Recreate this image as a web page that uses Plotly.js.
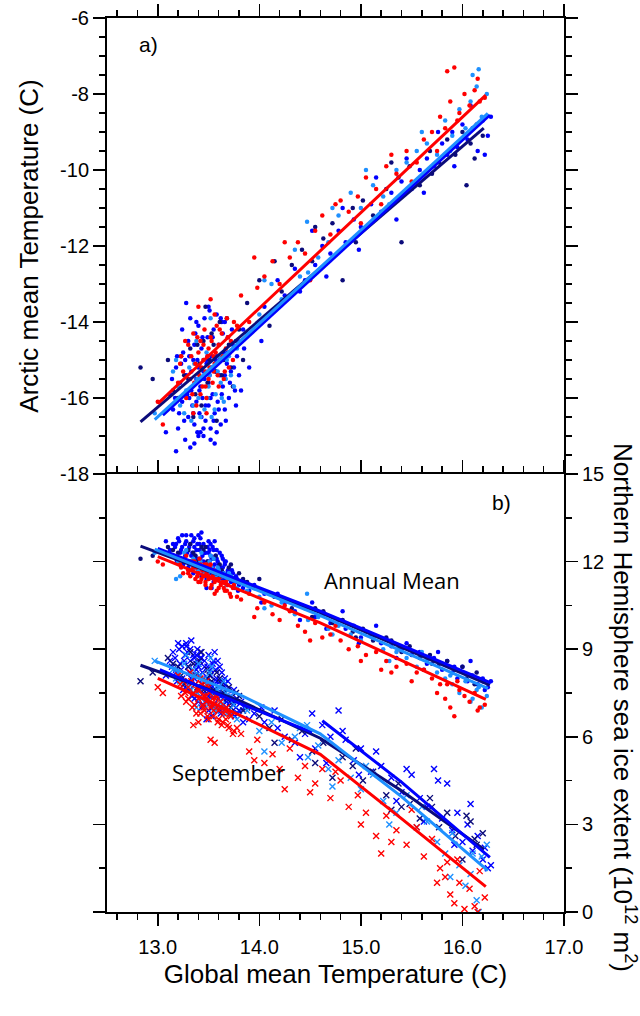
<!DOCTYPE html>
<html>
<head>
<meta charset="utf-8">
<script src="https://cdn.plot.ly/plotly-3.0.1.min.js"></script>
<style>html,body{margin:0;padding:0;background:#fff;}#chart{width:640px;height:1016px;}</style>
</head>
<body>
<div id="chart"></div>
<script>
// ---------------- DATA ----------------
// Each point: global mean T (x), Arctic mean T, annual NH sea ice extent, September NH sea ice extent
var xBlue = [13.12,13.15,13.18,13.20,13.22,13.24,13.25,13.27,13.28,13.30,13.30,13.32,13.33,13.34,13.35,13.36,13.37,13.38,13.39,13.40,13.40,13.41,13.42,13.43,13.44,13.45,13.45,13.46,13.47,13.48,13.49,13.50,13.50,13.51,13.52,13.53,13.54,13.55,13.56,13.57,13.58,13.59,13.60,13.61,13.62,13.63,13.64,13.65,13.66,13.68,13.69,13.70,13.72,13.74,13.76,13.78,13.80,13.28,13.36,13.43,13.52,13.58,13.66,13.85,13.90,13.48,13.18,13.08,13.95,14.05,14.15,14.25,14.35,14.45,14.55,14.62,14.70,14.78,14.85,14.93,15.00,15.10,15.20,15.30,15.40,15.50,15.58,15.65,15.72,15.80,15.85,15.90,15.95,16.00,16.05,16.10,16.15,16.20,16.25,16.28];
var arcBlue = [-15.9,-16.3,-15.2,-16.8,-15.6,-16.1,-14.8,-17.1,-15.4,-16.5,-14.5,-17.3,-15.8,-16.2,-15.0,-16.7,-14.3,-15.5,-16.9,-15.2,-14.1,-16.4,-15.7,-14.7,-16.0,-17.0,-15.3,-13.9,-16.6,-15.1,-14.4,-16.2,-15.6,-13.7,-16.8,-14.9,-15.9,-14.2,-16.4,-15.0,-13.8,-16.1,-14.6,-15.4,-16.7,-14.0,-15.7,-14.8,-16.3,-15.1,-14.4,-16.0,-15.3,-14.6,-15.8,-14.9,-15.4,-13.5,-17.2,-16.5,-17.1,-16.9,-14.0,-14.7,-15.2,-15.0,-17.4,-16.9,-14.2,-13.6,-13.7,-13.3,-12.6,-12.9,-12.5,-12.0,-12.2,-11.6,-11.9,-11.3,-11.5,-10.9,-11.1,-10.6,-10.3,-10.5,-10.0,-9.7,-9.9,-9.3,-9.6,-9.0,-9.4,-8.8,-9.2,-8.9,-9.5,-8.7,-9.1,-8.6];
var annBlue = [12.4,12.6,12.1,12.8,12.3,12.5,11.9,12.2,12.7,11.8,12.4,12.0,12.9,12.3,11.6,12.5,12.2,11.9,12.6,12.1,11.7,12.4,12.8,11.5,12.2,12.0,12.6,11.8,12.3,11.4,12.0,12.7,11.9,12.4,11.6,12.1,12.5,11.3,11.9,12.2,11.7,12.0,11.5,12.3,11.8,11.6,12.1,11.4,11.9,11.2,11.7,11.5,11.3,11.6,11.1,11.4,11.2,12.9,12.8,13.0,12.6,12.4,12.0,11.3,11.0,11.1,12.6,12.7,11.2,10.9,10.8,10.6,10.3,10.4,10.1,10.2,9.9,10.0,9.7,9.8,9.4,9.5,9.2,9.1,9.0,8.8,8.9,8.5,8.7,8.3,8.6,8.2,8.0,8.4,7.9,8.1,7.8,8.0,7.7,7.9];
var sepBlue = [8.6,8.9,8.2,9.2,8.5,8.0,7.6,8.8,9.1,7.9,8.4,8.6,9.3,7.4,8.1,8.7,7.8,8.3,9.0,7.2,8.5,7.7,8.9,7.0,8.2,8.0,7.5,8.6,7.9,7.3,8.4,8.8,6.9,7.6,8.1,7.4,8.5,7.1,7.8,8.3,7.0,8.6,7.5,7.9,6.8,8.2,7.3,7.7,8.0,7.2,7.6,6.9,7.4,7.1,6.7,7.3,6.9,9.2,8.0,8.7,7.8,7.9,7.8,7.0,6.6,6.6,8.3,8.1,6.8,6.5,6.9,6.0,5.8,6.1,5.6,6.4,6.0,6.9,5.9,5.2,5.6,4.8,5.0,4.6,4.1,4.7,3.9,3.6,4.9,3.2,4.4,2.8,3.4,2.4,3.0,2.1,2.6,1.8,1.5,1.6];
var xBlueB = [13.14,13.17,13.19,13.21,13.23,13.26,13.27,13.29,13.31,13.31,13.33,13.35,13.36,13.38,13.39,13.41,13.42,13.44,13.46,13.47,13.49,13.51,13.52,13.54,13.55,13.57,13.58,13.60,13.61,13.63,13.64,13.66,13.67,13.69,13.71,13.73,13.75,13.77,13.79,13.82,13.84,13.24,13.32,13.40,13.50,13.56,13.62,13.45,13.38,13.53,14.02,14.18,14.40,14.52,14.66,14.82,14.98,15.15,15.35,15.45,15.62,15.76,15.92,16.08,16.22];
var arcBlueB = [-15.5,-16.0,-14.9,-16.4,-15.1,-16.6,-15.0,-15.9,-14.9,-16.0,-15.3,-16.4,-14.6,-16.1,-15.0,-15.8,-16.9,-14.4,-15.5,-16.2,-14.9,-15.4,-16.0,-14.4,-16.6,-15.3,-14.9,-16.3,-15.0,-15.9,-14.3,-15.4,-16.6,-14.8,-15.6,-14.2,-15.2,-16.2,-14.5,-15.8,-14.2,-14.2,-13.9,-17.0,-13.6,-17.2,-13.9,-16.8,-14.0,-15.2,-14.5,-12.9,-13.2,-11.6,-12.8,-11.0,-12.1,-10.2,-11.3,-9.7,-10.6,-9.0,-9.9,-8.3,-9.6];
var annBlueB = [12.2,12.5,12.0,12.7,12.4,12.1,12.6,12.3,11.9,12.5,12.2,12.7,11.8,12.4,12.0,12.6,12.1,11.7,12.3,11.9,12.5,12.0,12.2,11.8,12.4,11.6,12.1,11.9,11.6,12.2,11.8,11.5,12.0,11.6,11.4,11.7,11.3,11.5,11.0,11.3,11.1,12.9,12.6,12.9,12.3,12.7,11.4,11.6,12.1,11.1,10.6,10.9,10.0,10.6,9.7,10.3,9.2,9.8,8.7,9.2,8.3,8.9,8.4,8.6,7.6];
var sepBlueB = [8.4,8.7,7.9,9.0,8.3,8.6,7.7,8.9,8.2,7.6,8.0,8.8,7.3,8.5,7.5,8.1,8.7,7.8,8.4,7.2,8.0,7.7,8.3,7.0,8.6,7.6,8.0,7.3,8.4,7.5,7.1,7.8,7.0,7.9,7.2,6.8,7.6,7.0,6.8,7.2,6.5,9.1,9.0,8.4,7.4,8.9,6.9,7.1,8.8,6.7,7.0,6.3,5.3,6.8,5.1,6.2,4.7,5.5,3.8,4.9,3.1,4.5,2.3,3.7,2.2];

var xRed = [13.00,13.05,13.20,13.23,13.25,13.28,13.30,13.32,13.34,13.35,13.37,13.38,13.40,13.41,13.42,13.44,13.45,13.46,13.47,13.48,13.50,13.51,13.52,13.54,13.55,13.56,13.58,13.59,13.60,13.62,13.63,13.65,13.67,13.68,13.70,13.72,13.75,13.48,13.40,13.56,13.82,13.90,13.98,14.05,14.13,14.20,14.30,14.38,14.45,14.55,14.62,14.70,14.80,14.88,14.97,15.05,15.15,15.25,15.35,15.45,15.55,15.62,15.70,15.78,15.83,15.88,15.92,15.97,16.02,16.07,16.12,16.17,16.22,15.85,15.20];
var arcRed = [-16.1,-16.7,-15.6,-14.9,-15.3,-16.0,-14.6,-15.5,-15.9,-14.3,-15.1,-16.2,-14.8,-15.4,-14.5,-15.7,-15.0,-14.2,-15.3,-16.0,-14.7,-15.2,-14.4,-15.6,-14.9,-15.1,-14.1,-15.4,-14.6,-15.0,-14.3,-15.5,-14.7,-13.9,-15.2,-14.5,-14.0,-16.4,-13.6,-13.8,-13.3,-14.0,-13.1,-12.8,-12.4,-13.0,-12.3,-11.9,-12.2,-11.6,-11.2,-11.7,-10.8,-11.1,-10.7,-10.2,-10.5,-9.9,-10.1,-9.5,-9.8,-9.2,-9.0,-8.6,-8.9,-8.2,-7.3,-8.5,-8.0,-8.3,-7.9,-8.2,-8.1,-7.4,-10.9];
var annRed = [12.0,11.9,12.1,11.8,11.6,12.2,11.7,11.5,12.0,11.9,11.4,11.8,11.6,12.1,11.3,11.7,11.5,11.9,11.2,11.6,11.4,11.8,11.1,11.5,11.7,11.3,11.0,11.6,11.4,11.2,11.5,11.1,11.3,11.0,11.4,10.8,11.2,11.9,11.3,10.9,10.7,10.9,10.4,10.6,10.2,10.0,10.3,9.8,9.6,9.9,9.4,9.5,9.3,9.0,9.1,8.8,8.9,8.6,8.4,8.5,8.2,8.3,8.0,7.8,7.3,7.0,6.7,7.6,7.4,7.2,7.5,7.0,7.1,7.8,8.3];
var sepRed = [7.7,7.5,8.1,7.4,7.9,7.2,7.7,8.2,7.0,7.5,7.8,6.8,7.3,7.6,8.0,7.1,7.4,6.9,7.7,7.2,6.6,7.5,7.0,7.3,6.7,7.1,7.4,6.5,6.9,7.2,6.4,6.8,6.6,7.0,6.3,6.7,6.2,7.9,6.5,5.8,6.1,5.5,5.9,5.1,5.4,4.9,5.6,4.6,5.0,4.4,4.9,3.9,4.5,3.6,4.0,3.4,2.6,3.3,2.8,2.3,2.9,1.9,2.5,1.5,1.2,0.6,0.3,1.0,0.1,0.8,0.2,1.4,0.5,1.7,2.0];
var xRedB = [13.22,13.27,13.30,13.33,13.36,13.39,13.42,13.43,13.45,13.47,13.49,13.50,13.53,13.55,13.57,13.60,13.61,13.64,13.66,13.69,13.71,13.74,13.78,13.35,13.52,13.95,14.25,14.50,14.75,15.00,15.30,15.50,15.75,15.95,16.15];
var arcRedB = [-15.1,-14.5,-15.8,-14.9,-15.6,-14.4,-15.9,-15.2,-14.6,-15.7,-14.9,-15.5,-14.5,-15.3,-14.8,-15.7,-14.2,-14.9,-15.3,-14.4,-14.8,-15.0,-14.1,-16.4,-13.4,-12.3,-11.9,-12.9,-10.9,-11.4,-9.6,-10.3,-9.5,-8.7,-7.6];
var annRedB = [11.9,12.0,11.6,11.7,12.0,11.5,11.9,11.4,11.7,11.3,11.8,11.5,11.2,11.6,11.4,11.1,11.6,11.3,11.0,11.2,10.9,11.1,10.8,11.8,11.9,10.1,10.5,9.3,9.8,8.6,8.2,7.9,7.5,7.9,6.9];
var sepRedB = [7.8,7.5,7.3,7.9,7.1,7.6,6.8,7.8,7.0,7.4,6.7,7.7,7.1,6.9,7.3,6.6,7.0,6.5,6.9,6.4,6.8,6.1,6.3,6.4,5.9,5.2,4.2,4.1,4.8,3.0,2.4,3.5,1.0,1.8,0.0];

var xLight = [12.97,13.15,13.22,13.28,13.33,13.36,13.40,13.43,13.46,13.48,13.50,13.53,13.55,13.57,13.60,13.62,13.65,13.68,13.72,13.78,13.38,13.52,13.18,13.88,14.00,14.12,14.22,14.35,14.48,14.58,14.68,14.78,14.90,15.00,15.12,15.22,15.35,15.45,15.55,15.65,15.75,15.83,15.90,15.97,16.03,16.08,16.14,16.19,16.24,16.16,14.47];
var arcLight = [-16.4,-15.3,-16.2,-15.8,-16.6,-15.1,-16.0,-15.5,-16.3,-14.8,-15.7,-16.5,-15.2,-15.9,-14.9,-15.6,-16.1,-15.0,-15.4,-14.7,-14.5,-13.9,-15.0,-14.3,-13.8,-13.0,-13.4,-12.1,-12.7,-12.3,-11.9,-11.2,-10.6,-11.0,-10.4,-10.7,-10.0,-9.8,-9.5,-9.3,-9.6,-8.7,-9.1,-8.4,-8.9,-8.2,-7.8,-8.6,-8.0,-7.35,-11.36];
var annLight = [12.3,12.2,11.5,12.4,11.9,12.0,11.7,12.3,11.6,11.9,11.4,11.8,12.1,11.5,11.7,11.3,11.6,11.2,11.5,11.1,11.8,12.2,11.4,11.0,10.8,10.5,10.6,10.2,10.0,10.1,9.7,9.8,9.5,9.3,9.4,9.0,8.9,8.7,8.4,8.6,8.2,8.0,7.8,7.5,7.9,7.2,7.6,7.0,7.4,7.7,10.9];
var sepLight = [8.6,8.3,7.9,8.8,7.6,8.1,8.5,7.3,8.0,7.8,7.1,8.4,7.5,6.9,7.7,7.2,7.9,6.8,7.4,6.6,7.0,8.7,8.0,6.9,6.2,6.5,5.8,6.0,5.3,5.7,4.9,5.2,4.6,4.2,4.7,3.8,3.4,4.0,2.9,3.1,2.4,2.0,2.7,1.6,0.9,1.3,0.4,1.9,2.3,0.0,6.4];
var xLightB = [13.20,13.26,13.31,13.35,13.39,13.42,13.45,13.49,13.51,13.56,13.59,13.63,13.67,13.70,13.75,14.05,14.40,14.72,15.05,15.28,15.60,15.88,16.10];
var arcLightB = [-15.7,-16.4,-15.2,-16.2,-15.5,-16.5,-15.0,-16.0,-15.4,-16.3,-15.3,-16.0,-15.5,-14.9,-15.7,-12.9,-12.8,-11.0,-10.0,-10.9,-9.0,-9.5,-7.5];
var annLightB = [12.0,12.3,11.7,12.1,11.5,12.0,11.8,11.6,12.0,11.4,11.8,11.5,11.3,11.6,11.2,10.4,10.5,9.5,9.6,8.6,8.9,8.1,7.3];
var sepLightB = [8.2,8.5,7.8,8.3,7.5,8.1,7.7,7.2,8.2,7.0,7.6,7.1,7.5,6.9,7.1,5.5,6.3,4.3,5.0,3.0,3.6,1.2,2.0];

var xNavy = [12.83,12.95,13.10,13.20,13.26,13.32,13.37,13.41,13.45,13.49,13.53,13.57,13.61,13.65,13.70,13.74,13.80,13.47,13.35,13.58,13.88,14.00,14.10,14.22,14.32,14.42,14.52,14.63,14.72,14.82,14.92,15.02,15.12,15.25,15.37,15.48,15.58,15.68,15.77,15.85,15.93,16.00,16.08,16.14,16.20,16.04,15.40];
var arcNavy = [-15.2,-15.5,-15.0,-16.0,-15.4,-14.7,-15.9,-15.1,-14.5,-15.6,-14.3,-15.3,-14.0,-15.0,-14.6,-15.7,-14.2,-13.6,-16.5,-16.6,-13.5,-12.9,-14.1,-13.2,-12.5,-12.1,-12.4,-11.8,-11.4,-12.9,-11.0,-10.8,-11.2,-10.5,-10.2,-9.9,-10.4,-9.5,-9.8,-9.2,-9.6,-9.0,-9.3,-8.8,-9.1,-10.4,-11.9];
var annNavy = [12.1,12.2,12.5,12.3,12.0,12.6,12.2,11.9,12.4,12.0,11.7,12.2,11.9,11.6,11.8,11.4,11.6,12.5,12.3,11.5,11.3,11.4,10.9,10.7,10.4,10.5,10.1,10.3,9.9,10.0,9.6,9.7,9.3,9.4,9.0,9.1,8.7,8.8,8.5,8.6,8.3,8.4,8.1,8.2,7.9,8.0,8.9];
var sepNavy = [7.9,8.2,8.7,8.4,7.8,8.9,8.1,8.6,7.6,8.3,7.9,7.4,8.0,7.5,7.7,7.2,7.4,7.9,8.5,8.2,7.0,6.7,6.3,6.6,5.9,6.2,5.5,5.8,4.6,5.3,5.0,4.5,4.8,4.0,4.4,3.7,3.2,3.9,2.9,3.4,2.6,1.8,3.1,2.3,2.7,3.3,3.6];
var xNavyB = [13.15,13.23,13.30,13.39,13.43,13.51,13.55,13.63,13.68,13.72,13.77,13.84,14.15,14.55,14.95,15.30,15.70,16.12];
var arcNavyB = [-15.8,-14.9,-15.5,-14.6,-16.2,-15.0,-14.6,-15.4,-13.9,-15.2,-14.5,-15.0,-12.4,-11.5,-11.9,-9.8,-10.1,-9.7];
var annNavyB = [12.4,12.1,12.4,12.0,12.5,11.8,12.1,11.7,11.5,11.9,11.3,11.4,10.8,10.4,9.4,9.3,8.5,7.8];
var sepNavyB = [8.5,8.1,8.4,7.7,8.9,8.1,7.6,7.8,7.3,7.0,7.5,6.9,5.8,5.1,5.6,3.5,3.6,2.5];

// Fitted lines (vertices; null = gap between segments)
var fitArcX = {navy:[12.83,16.21], blue:[13.05,16.27], light:[12.97,16.25], red:[13.00,16.23]};
var fitArcY = {navy:[-16.63,-8.90], blue:[-16.45,-8.55], light:[-16.57,-8.51], red:[-16.15,-8.03]};
var fitAnnX = {navy:[12.83,14.6,16.27], blue:[13.00,14.6,16.28], light:[12.97,14.6,16.25], red:[13.00,14.6,16.23]};
var fitAnnY = {navy:[12.53,10.25,7.77], blue:[12.45,10.30,7.85], light:[12.43,10.15,7.66], red:[12.17,9.90,7.28]};
var fitSepX = {navy:[12.83,13.8,14.6,15.4,16.21], blue:[13.02,13.8,14.52,null,14.62,15.4,16.27], light:[12.97,13.8,14.6,15.4,16.25], red:[13.00,13.8,14.6,15.4,16.23]};
var fitSepY = {navy:[8.45,7.25,5.95,4.15,2.15], blue:[8.30,7.15,6.15,null,6.55,4.45,1.87], light:[8.60,7.45,6.10,3.95,1.42], red:[8.00,6.75,5.40,3.20,0.87]};

var yTickVals = [-18,-16,-14,-12,-10,-8,-6];
var yTickText = ['-18','-16','-14','-12','-10','-8','-6'];

var colors = {navy:'#0b0b7a', blue:'#0000ff', light:'#1e90ff', red:'#ff0000'};

// ---------------- TRACES ----------------
var series = [
  {k:'blue', x:xBlue.concat(xBlueB), a:arcBlue.concat(arcBlueB), i:annBlue.concat(annBlueB), s:sepBlue.concat(sepBlueB)},
  {k:'navy', x:xNavy.concat(xNavyB), a:arcNavy.concat(arcNavyB), i:annNavy.concat(annNavyB), s:sepNavy.concat(sepNavyB)},
  {k:'light', x:xLight.concat(xLightB), a:arcLight.concat(arcLightB), i:annLight.concat(annLightB), s:sepLight.concat(sepLightB)},
  {k:'red', x:xRed.concat(xRedB), a:arcRed.concat(arcRedB), i:annRed.concat(annRedB), s:sepRed.concat(sepRedB)}
];
var traces = [];
series.forEach(function(d){
  traces.push({x:d.x, y:d.a, xaxis:'x2', yaxis:'y', type:'scatter', mode:'markers',
    marker:{symbol:'circle', size:4.5, color:colors[d.k]}, hoverinfo:'skip'});
  traces.push({x:d.x, y:d.i, xaxis:'x', yaxis:'y2', type:'scatter', mode:'markers',
    marker:{symbol:'circle', size:4.5, color:colors[d.k]}, hoverinfo:'skip'});
  traces.push({x:d.x, y:d.s, xaxis:'x', yaxis:'y2', type:'scatter', mode:'markers',
    marker:{symbol:'x-thin', size:6, line:{width:1.4, color:colors[d.k]}, color:colors[d.k]}, hoverinfo:'skip'});
});
['navy','blue','light','red'].forEach(function(k){
  traces.push({x:fitArcX[k], y:fitArcY[k], xaxis:'x2', yaxis:'y', type:'scatter', mode:'lines',
    line:{color:colors[k], width:3}, hoverinfo:'skip'});
  traces.push({x:fitAnnX[k], y:fitAnnY[k], xaxis:'x', yaxis:'y2', type:'scatter', mode:'lines',
    line:{color:colors[k], width:3}, hoverinfo:'skip'});
  traces.push({x:fitSepX[k], y:fitSepY[k], xaxis:'x', yaxis:'y2', type:'scatter', mode:'lines',
    line:{color:colors[k], width:3}, connectgaps:false, hoverinfo:'skip'});
});

// ---------------- LAYOUT ----------------
var split = 438/894;
var base = 'Liberation Sans, Arial, Helvetica, sans-serif';
var tickFont = {family:base, size:20, color:'#000'};
function axisCommon(){
  return {showgrid:false, zeroline:false, showline:true, linewidth:2, linecolor:'#000',
    ticks:'outside', ticklen:12, tickwidth:1.5, tickcolor:'#000', tickfont:tickFont};
}
var xa = axisCommon();
Object.assign(xa, {anchor:'y2', range:[12.5,17.0], tick0:13, dtick:1, tickformat:'.1f', mirror:'ticks',
  minor:{dtick:0.2, tick0:13, ticklen:6, tickwidth:1.5, tickcolor:'#000', ticks:'outside'},
  ticklabelstandoff:4,
  title:{text:'Global mean Temperature (C)', font:{family:base, size:26, color:'#000'}, standoff:8}});
var xa2 = axisCommon();
Object.assign(xa2, {anchor:'y', matches:'x', side:'top', range:[12.5,17.0], tick0:13, dtick:1, showticklabels:false,
  minor:{dtick:0.2, tick0:13, ticklen:6, tickwidth:1.5, tickcolor:'#000', ticks:'outside'}});
var ya = axisCommon();
Object.assign(ya, {domain:[split,1], anchor:'x2', range:[-18,-6], tickmode:'array', tickvals:yTickVals, ticktext:yTickText, mirror:'ticks',
  minor:{tickmode:'linear', tick0:-18, dtick:0.5, ticklen:6, tickwidth:1.5, tickcolor:'#000', ticks:'outside'},
  title:{text:'Arctic mean Temperature (C)', font:{family:base, size:26, color:'#000'}, standoff:14}});
var ya2 = axisCommon();
Object.assign(ya2, {domain:[0,split], anchor:'x', side:'right', range:[0,15], tick0:0, dtick:3, mirror:'ticks',
  minor:{dtick:1.5, ticklen:6, tickwidth:1.5, tickcolor:'#000', ticks:'outside'}});

var layout = {
  width:640, height:1016,
  margin:{l:107, r:76, t:18, b:104, pad:0},
  paper_bgcolor:'#fff', plot_bgcolor:'#fff',
  showlegend:false,
  font:{family:base, color:'#000'},
  xaxis:xa, xaxis2:xa2, yaxis:ya, yaxis2:ya2,
  annotations:[
    {text:'a)', xref:'paper', yref:'paper', x:0.0919, y:0.9709, xanchor:'center', yanchor:'middle', showarrow:false, font:{family:base, size:21, color:'#000'}},
    {text:'b)', xref:'paper', yref:'paper', x:0.8643, y:0.4575, xanchor:'center', yanchor:'middle', showarrow:false, font:{family:base, size:21, color:'#000'}},
    {text:'Annual Mean', xref:'paper', yref:'paper', x:0.6236, y:0.3714, xanchor:'center', yanchor:'middle', showarrow:false, font:{family:'Open Sans, sans-serif', size:22, color:'#000'}},
    {text:'September', xref:'paper', yref:'paper', x:0.2648, y:0.1566, xanchor:'center', yanchor:'middle', showarrow:false, font:{family:'Open Sans, sans-serif', size:22, color:'#000'}},
    {text:'Northern Hemisphere sea ice extent (10<sup>12</sup> m<sup>2</sup>)', xref:'paper', yref:'paper',
      x:1.1335, y:0.2293, xanchor:'center', yanchor:'middle', textangle:90, showarrow:false, font:{family:base, size:26, color:'#000'}}
  ]
};

Plotly.newPlot('chart', traces, layout, {staticPlot:true, displayModeBar:false});
</script>
</body>
</html>
